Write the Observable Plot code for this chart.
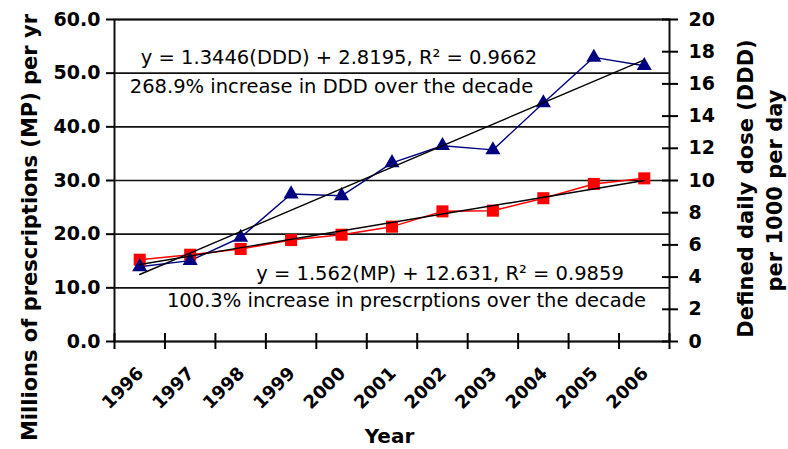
<!DOCTYPE html>
<html><head><meta charset="utf-8">
<script src="https://cdn.jsdelivr.net/npm/d3@7"></script>
<script src="https://cdn.jsdelivr.net/npm/@observablehq/plot@0.6"></script>
<style>body{margin:0;background:#fff;}</style>
</head><body><div id="chart"></div>
<script>
const years = [1996, 1997, 1998, 1999, 2000, 2001, 2002, 2003, 2004, 2005, 2006];
const prescriptions = [15.24, 16.17, 17.24, 18.9, 19.9, 21.4, 24.25, 24.38, 26.7, 29.36, 30.4];
const dddValues = [4.64, 5.02, 6.46, 9.16, 9.05, 11.1, 12.16, 11.9, 14.82, 17.65, 17.13];
const leftTicks = [0, 10, 20, 30, 40, 50, 60];
const rightTicks = [0, 2, 4, 6, 8, 10, 12, 14, 16, 18, 20];
const yearBounds = [1995.5, 1996.5, 1997.5, 1998.5, 1999.5, 2000.5, 2001.5, 2002.5, 2003.5, 2004.5, 2005.5, 2006.5];
const dddEquation = ["y = 1.3446(DDD) + 2.8195, R\u00B2 = 0.9662"];
const dddNote = ["268.9% increase in DDD over the decade"];
const mpEquation = ["y = 1.562(MP) + 12.631, R\u00B2 = 0.9859"];
const mpNote = ["100.3% increase in prescrptions over the decade"];
const leftTitle = ["Millions of prescriptions (MP) per yr"];
const rightTitle1 = ["Defined daily dose (DDD)"];
const rightTitle2 = ["per 1000 per day"];
const xTitle = ["Year"];

const data = years.map((year, i) => ({year, mp: prescriptions[i], ddd: dddValues[i]}));
const K = 60 / 20; // right axis (0-20) onto left axis (0-60)
const RED = "#ff0000", NAVY = "#000080";

const chart = Plot.plot({
  width: 788, height: 449,
  marginLeft: 114, marginRight: 119, marginTop: 19, marginBottom: 108,
  style: {fontFamily: "'DejaVu Sans', sans-serif", background: "white", color: "black", overflow: "visible"},
  x: {type: "linear", domain: [1995.5, 2006.5]},
  y: {domain: [0, 60]},
  marks: [
    Plot.ruleY(leftTicks, {stroke: "#111", strokeWidth: 1.6}),
    Plot.frame({stroke: "#111", strokeWidth: 2}),
    Plot.axisY(leftTicks, {anchor: "left", tickSize: 8, tickPadding: 6, tickFormat: d3.format(".1f"),
      fontSize: 19, fontWeight: "bold", strokeWidth: 2, label: null}),
    Plot.axisY(rightTicks.map(d => d * K), {anchor: "right", tickSize: 16, dx: -8, tickPadding: 11,
      tickFormat: d => String(Math.round(d / K)), fontSize: 19, fontWeight: "bold", strokeWidth: 2, label: null}),
    Plot.axisX(yearBounds, {anchor: "bottom", tickSize: 16, dy: -8, tickFormat: () => "", strokeWidth: 2, label: null}),
    Plot.line(data, {x: "year", y: "mp", stroke: RED, strokeWidth: 1.5}),
    Plot.line(data, {x: "year", y: d => d.ddd * K, stroke: NAVY, strokeWidth: 1.4}),
    Plot.dot(data, {x: "year", y: "mp", symbol: "square", fill: RED, r: 6.8}),
    Plot.dot(data, {x: "year", y: d => d.ddd * K, symbol: "triangle", fill: NAVY, r: 5.6}),
    Plot.linearRegressionY(data, {x: "year", y: "mp", stroke: "black", strokeWidth: 1.4, ci: 0}),
    Plot.linearRegressionY(data, {x: "year", y: d => d.ddd * K, stroke: "black", strokeWidth: 1.4, ci: 0}),
    Plot.text(years, {x: d => d, text: d => String(d), frameAnchor: "bottom", dx: 5, dy: 33, rotate: -45, textAnchor: "end",
      lineAnchor: "bottom", fontSize: 18, fontWeight: "bold"}),
    Plot.text(dddEquation, {frameAnchor: "top-left", dx: 224.5, dy: 44.3, textAnchor: "middle", lineAnchor: "bottom", fontSize: 19.5}),
    Plot.text(dddNote, {frameAnchor: "top-left", dx: 217, dy: 73.5, textAnchor: "middle", lineAnchor: "bottom", fontSize: 19.5}),
    Plot.text(mpEquation, {frameAnchor: "top-left", dx: 325.5, dy: 260.5, textAnchor: "middle", lineAnchor: "bottom", fontSize: 19.5}),
    Plot.text(mpNote, {frameAnchor: "top-left", dx: 292, dy: 287.7, textAnchor: "middle", lineAnchor: "bottom", fontSize: 19.5}),
    Plot.text(leftTitle, {frameAnchor: "left", dx: -78, dy: 47, rotate: -90, textAnchor: "middle", lineAnchor: "bottom", fontSize: 21, fontWeight: "bold"}),
    Plot.text(rightTitle1, {frameAnchor: "right", dx: 83, dy: 8, rotate: -90, textAnchor: "middle", lineAnchor: "bottom", fontSize: 21, fontWeight: "bold"}),
    Plot.text(rightTitle2, {frameAnchor: "right", dx: 112, dy: 10, rotate: -90, textAnchor: "middle", lineAnchor: "bottom", fontSize: 21, fontWeight: "bold"}),
    Plot.text(xTitle, {frameAnchor: "bottom", dx: -2.5, dy: 101, textAnchor: "middle", lineAnchor: "bottom", fontSize: 20, fontWeight: "bold"})
  ]
});
document.getElementById("chart").appendChild(chart);
</script>
</body></html>
